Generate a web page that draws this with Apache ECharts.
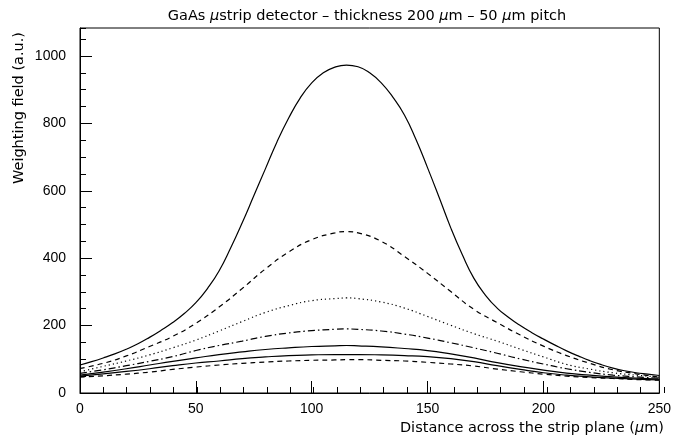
<!DOCTYPE html>
<html>
<head>
<meta charset="utf-8">
<script src="https://cdn.jsdelivr.net/npm/echarts@6/dist/echarts.min.js"></script>
<style>
  html, body { margin: 0; padding: 0; background: #fff; }
  #chart { width: 674px; height: 436px; }
</style>
</head>
<body>
<div id="chart"></div>
<script>
// positions across the strip plane (um)
const xFine = [0, 5, 10, 15, 20, 25, 30, 35, 40, 45, 50, 55, 60, 65, 70, 75, 80, 85, 90, 95, 100, 105, 110, 115, 120, 125,
  130, 135, 140, 145, 150, 155, 160, 165, 170, 175, 180, 185, 190, 195, 200, 205, 210, 215, 220, 225, 230, 235, 240, 245, 250];
const xCoarse = [0, 10, 20, 30, 40, 50, 60, 70, 80, 90, 100, 110, 115, 120, 130, 140, 150, 160, 170, 180, 190, 200, 210, 220, 230, 240, 250];

// weighting field curves (a.u.)
// highest curve, read every 5 um (on xFine)
const curveA = [83, 93, 104, 116, 130, 146, 165, 186, 209, 236, 268, 310, 362, 430, 505, 585, 665, 745, 815, 875, 920, 950, 967, 973, 968, 950,
  920, 878, 825, 752, 668, 580, 490, 410, 340, 290, 252, 224, 200, 179, 160, 142, 125, 110, 96, 84, 74, 66, 60, 56, 52];
// the lower curves (on xCoarse)
const curveB = [73, 88, 110, 138, 168, 207, 255, 310, 368, 418, 455, 475, 479, 475, 450, 405, 355, 301, 248, 209, 172, 139, 111, 88, 69, 57, 47];
const curveC = [63, 79, 95, 113, 134, 157, 184, 212, 239, 259, 274, 280, 282, 280, 270, 252, 227, 201, 176, 154, 130, 107, 85, 71, 60, 53, 47];
const curveD = [58, 69, 81, 94, 108, 126, 141, 154, 168, 178, 185, 189, 190, 189, 184, 175, 163, 149, 134, 118, 101, 86, 72, 61, 53, 48, 44];
const curveE = [53, 62, 72, 83, 94, 104, 114, 122, 129, 134, 138, 140, 141, 140, 137, 132, 126, 116, 104, 90, 78, 68, 59, 53, 48, 44, 41];
const curveF = [50, 57, 64, 72, 81, 89, 95, 102, 107, 111, 113, 114, 114, 114, 113, 111, 108, 102, 93, 81, 70, 60, 53, 48, 44, 41, 39];
const curveG = [47, 51, 56, 62, 70, 77, 83, 88, 92, 95, 97, 98, 99, 99, 97, 95, 91, 86, 80, 71, 63, 56, 50, 46, 43, 40, 38];

const xTicks = [0, 50, 100, 150, 200, 250];
const yTicks = [0, 200, 400, 600, 800, 1000];

const FONT = "Liberation Sans";
const TEXT_FONT = "DejaVu Sans";

function pairs(xs, ys) {
  return xs.map((x, i) => [x, ys[i]]);
}

function lineSeries(xs, ys, dash) {
  return {
    type: "line",
    data: pairs(xs, ys),
    smooth: 0.5,
    showSymbol: false,
    silent: true,
    xAxisIndex: 0,
    yAxisIndex: 0,
    lineStyle: { color: "#000", width: 1.2, type: dash }
  };
}

const gridBox = { left: 80, right: 10, top: 28, bottom: 43 };

const chart = echarts.init(document.getElementById("chart"));

const option = {
  backgroundColor: "#fff",
  animation: false,
  title: {
    text: "GaAs {i|μ}strip detector – thickness 200 {i|μ}m – 50 {i|μ}m pitch",
    left: 362,
    textAlign: "center",
    top: 4,
    textStyle: {
      fontFamily: TEXT_FONT,
      fontSize: 14.5,
      fontWeight: "normal",
      color: "#000",
      rich: {
        i: { fontFamily: TEXT_FONT, fontSize: 14.5, fontStyle: "italic", color: "#000" }
      }
    }
  },
  grid: [
    Object.assign({ show: true, borderColor: "#000", borderWidth: 1 }, gridBox),
    Object.assign({ show: false }, gridBox)
  ],
  xAxis: [
    {
      type: "value",
      gridIndex: 0,
      min: 0,
      max: 250,
      interval: 50,
      axisLine: { show: true, onZero: false, lineStyle: { color: "#000" } },
      axisTick: { show: true, inside: true, length: 12, lineStyle: { color: "#000" } },
      axisLabel: {
        color: "#000",
        fontFamily: FONT,
        fontSize: 14,
        margin: 9,
        formatter: v => (xTicks.includes(v) ? String(v) : "")
      },
      splitLine: { show: false }
    },
    {
      // minor ticks every 10 um
      type: "value",
      gridIndex: 1,
      min: 0,
      max: 250,
      interval: 10,
      position: "bottom",
      axisLine: { show: false, onZero: false },
      axisTick: { show: true, inside: true, length: 6, lineStyle: { color: "#000" } },
      axisLabel: { show: false },
      splitLine: { show: false }
    }
  ],
  yAxis: [
    {
      type: "value",
      gridIndex: 0,
      min: 0,
      max: 1083,
      interval: 200,
      axisLine: { show: true, onZero: false, lineStyle: { color: "#000" } },
      axisTick: { show: true, inside: true, length: 12, lineStyle: { color: "#000" } },
      axisLabel: {
        color: "#000",
        fontFamily: FONT,
        fontSize: 14,
        margin: 14,
        showMaxLabel: false,
        formatter: v => (yTicks.includes(v) ? String(v) : "")
      },
      splitLine: { show: false }
    },
    {
      // minor ticks every 50
      type: "value",
      gridIndex: 1,
      min: 0,
      max: 1083,
      interval: 50,
      position: "left",
      axisLine: { show: false, onZero: false },
      axisTick: { show: true, inside: true, length: 6, lineStyle: { color: "#000" } },
      axisLabel: { show: false },
      splitLine: { show: false }
    }
  ],
  graphic: [
    {
      type: "text",
      x: 19,
      y: 108,
      rotation: Math.PI / 2,
      style: {
        text: "Weighting field (a.u.)",
        fontFamily: TEXT_FONT,
        fontSize: 14.5,
        fill: "#000",
        align: "center",
        verticalAlign: "middle"
      }
    },
    {
      type: "text",
      x: 664,
      y: 428,
      style: {
        text: "Distance across the strip plane ({i|μ}m)",
        fontFamily: TEXT_FONT,
        fontSize: 14.5,
        fill: "#000",
        align: "right",
        verticalAlign: "middle",
        rich: {
          i: { fontFamily: TEXT_FONT, fontSize: 14.5, fontStyle: "italic", fill: "#000" }
        }
      }
    }
  ],
  series: [
    lineSeries(xFine, curveA, "solid"),
    lineSeries(xCoarse, curveB, [5, 4]),
    lineSeries(xCoarse, curveC, [1.2, 3]),
    lineSeries(xCoarse, curveD, [7, 3, 1.5, 3]),
    lineSeries(xCoarse, curveE, "solid"),
    lineSeries(xCoarse, curveF, "solid"),
    lineSeries(xCoarse, curveG, [5, 4])
  ]
};

chart.setOption(option);
</script>
</body>
</html>
